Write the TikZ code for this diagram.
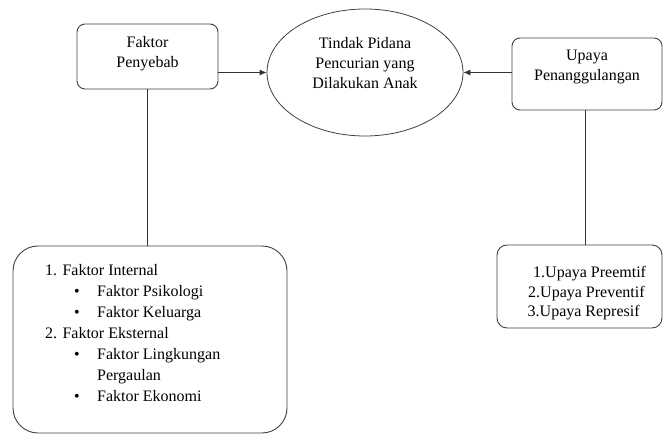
\documentclass[tikz,border=0pt]{standalone}
\usepackage{fontspec}
\setmainfont{Liberation Serif}
\newfontfamily\tnr{Liberation Serif}
\usetikzlibrary{shapes.geometric,arrows.meta,calc}
\tikzset{
  box/.style={draw=black!75, line width=0.9pt, rounded corners=8pt, inner sep=0pt},
  txt/.style={align=center, inner sep=0pt, font=\tnr\fontsize{16}{20}\selectfont},
  conn/.style={draw=black!80, line width=0.8pt},
  arr/.style={conn, -{Latex[length=7pt,width=6pt]}}
}
\begin{document}
\begin{tikzpicture}[x=1pt,y=-1pt]
\useasboundingbox (0,0) rectangle (664,435);
% top row
\node[box, minimum width=141pt, minimum height=65pt] (fp) at (147.5,56.5) {};
\node[txt] (fpt) at (147.5,54) {Faktor\\Penyebab};
\node[draw=black!75, line width=0.8pt, ellipse, minimum width=196pt, minimum height=127pt, inner sep=0pt] (tp) at (365,72.5) {};
\node[txt] (tpt) at (365,63.5) {Tindak Pidana\\Pencurian yang\\Dilakukan Anak};
\node[box, minimum width=150pt, minimum height=72pt] (up) at (587,74) {};
\node[txt] (upt) at (587,67) {Upaya\\Penanggulangan};
% bottom boxes
\node[box, rounded corners=25pt, minimum width=274pt, minimum height=187pt] (ll) at (150,339.5) {};
\node[anchor=north west, align=left, inner sep=0pt, font=\tnr\fontsize{16}{20.9}\selectfont] (llt) at (45,264.5) {%
1. Faktor Internal\\
\makebox[52pt][l]{\hspace*{29pt}\textbullet}Faktor Psikologi\\
\makebox[52pt][l]{\hspace*{29pt}\textbullet}Faktor Keluarga\\
2. Faktor Eksternal\\
\makebox[52pt][l]{\hspace*{29pt}\textbullet}Faktor Lingkungan\\
\makebox[52pt][l]{}Pergaulan\\
\makebox[52pt][l]{\hspace*{29pt}\textbullet}Faktor Ekonomi};
\node[box, rounded corners=10pt, minimum width=165pt, minimum height=83pt] (lr) at (579.5,286.5) {};
\node[anchor=north west, align=left, inner sep=0pt, font=\tnr\fontsize{16}{19.5}\selectfont] (lrt) at (527.5,266.5) {%
\hspace*{5.5pt}1.Upaya Preemtif\\
\hspace*{0.5pt}2.Upaya Preventif\\
3.Upaya Represif};
% connectors
\coordinate (a1) at ([yshift=-16pt]fp.east);
\draw[arr] (a1) -- (a1 -| tp.west);
\coordinate (a2) at ([yshift=1.5pt]up.west);
\draw[arr] (a2) -- (a2 -| tp.east);
\draw[conn] (fp.south) -- (fp.south |- ll.north);
\coordinate (b2) at ([xshift=-2pt]up.south);
\draw[conn] (b2) -- (b2 |- lr.north);
\end{tikzpicture}
\end{document}
